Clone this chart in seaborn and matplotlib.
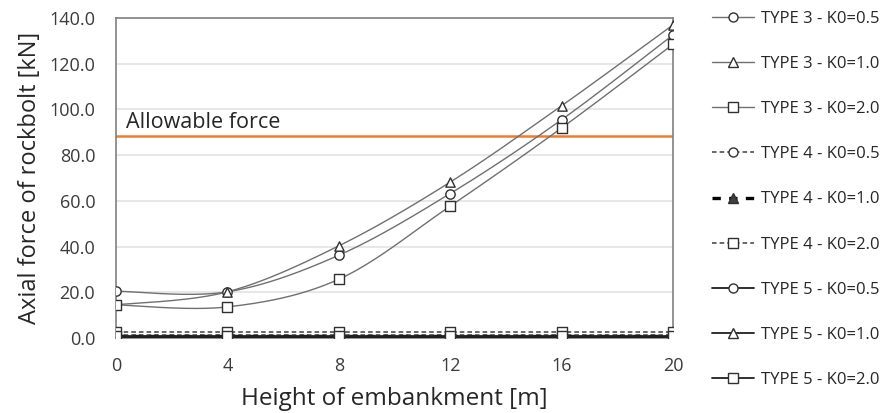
import numpy as np
import pandas as pd
import matplotlib
matplotlib.use("Agg")
import matplotlib.pyplot as plt
from matplotlib.lines import Line2D
import seaborn as sns

# Embankment heights [m]
heights = [0, 4, 8, 12, 16, 20]

# Axial force of rockbolt [kN]
type3_k05 = [20.5, 20.2, 36.2, 63.2, 95.5, 132.6]
type3_k10 = [14.5, 20.2, 40.3, 68.2, 101.6, 137.0]
type3_k20 = [14.5, 13.6, 25.7, 57.7, 91.9, 128.5]
type4_k05 = [1.4, 1.4, 1.4, 1.4, 1.4, 1.4]
type4_k10 = [1.0, 1.0, 1.0, 1.0, 1.0, 1.0]
type4_k20 = [2.8, 2.8, 2.8, 2.8, 2.8, 2.8]
type5_k05 = [0.5, 0.5, 0.5, 0.5, 0.5, 0.5]
type5_k10 = [0.3, 0.3, 0.3, 0.3, 0.3, 0.3]
type5_k20 = [0.7, 0.7, 0.7, 0.7, 0.7, 0.7]

allowable_force = 88.5

series_names = [
    "TYPE 3 - K0=0.5", "TYPE 3 - K0=1.0", "TYPE 3 - K0=2.0",
    "TYPE 4 - K0=0.5", "TYPE 4 - K0=1.0", "TYPE 4 - K0=2.0",
    "TYPE 5 - K0=0.5", "TYPE 5 - K0=1.0", "TYPE 5 - K0=2.0",
]
series_values = [
    type3_k05, type3_k10, type3_k20,
    type4_k05, type4_k10, type4_k20,
    type5_k05, type5_k10, type5_k20,
]

# line style, line colour, line width, marker, marker face
styles = {
    "TYPE 3 - K0=0.5": ("-", "#707070", 1.0, "o", "white"),
    "TYPE 3 - K0=1.0": ("-", "#707070", 1.0, "^", "white"),
    "TYPE 3 - K0=2.0": ("-", "#707070", 1.0, "s", "white"),
    "TYPE 4 - K0=0.5": ((0, (3, 2)), "#404040", 1.1, "o", "white"),
    "TYPE 4 - K0=1.0": ((0, (2.5, 2.5)), "#000000", 2.4, "^", "#404040"),
    "TYPE 4 - K0=2.0": ((0, (3, 2)), "#404040", 1.1, "s", "white"),
    "TYPE 5 - K0=0.5": ("-", "#202020", 1.3, "o", "white"),
    "TYPE 5 - K0=1.0": ("-", "#202020", 1.3, "^", "white"),
    "TYPE 5 - K0=2.0": ("-", "#202020", 1.3, "s", "white"),
}


def smooth_curve(xs, ys, n=40):
    """Cubic Bezier smoothing through every point (spreadsheet-style)."""
    xs = np.asarray(xs, float)
    ys = np.asarray(ys, float)
    px = np.concatenate([[xs[0]], xs, [xs[-1]]])
    py = np.concatenate([[ys[0]], ys, [ys[-1]]])
    out_x, out_y = [], []
    t = np.linspace(0, 1, n)
    for i in range(1, len(px) - 2):
        p0 = np.array([px[i], py[i]])
        p3 = np.array([px[i + 1], py[i + 1]])
        c1 = p0 + (np.array([px[i + 1], py[i + 1]]) - np.array([px[i - 1], py[i - 1]])) / 6
        c2 = p3 - (np.array([px[i + 2], py[i + 2]]) - np.array([px[i], py[i]])) / 6
        b = ((1 - t) ** 3)[:, None] * p0 + (3 * (1 - t) ** 2 * t)[:, None] * c1 \
            + (3 * (1 - t) * t ** 2)[:, None] * c2 + (t ** 3)[:, None] * p3
        out_x.extend(b[:, 0])
        out_y.extend(b[:, 1])
    return np.array(out_x), np.array(out_y)


sns.set_theme(style="white")
plt.rcParams["font.family"] = ["Open Sans", "DejaVu Sans"]

fig = plt.figure(figsize=(8.86, 4.13), dpi=100)
ax = fig.add_axes([0.1309, 0.1816, 0.6287, 0.7748])

# Near-zero series first, the rising TYPE 3 curves last
draw_order = list(range(3, 9)) + [0, 1, 2]
for idx in draw_order:
    name = series_names[idx]
    vals = series_values[idx]
    ls, col, lw, mk, face = styles[name]
    sx, sy = smooth_curve(heights, vals)
    sns.lineplot(x=sx, y=sy, ax=ax, color=col, linewidth=lw, linestyle=ls,
                 sort=False, estimator=None, legend=False, zorder=3)
    sns.scatterplot(x=heights, y=vals, ax=ax, marker=mk, s=45,
                    facecolor=face, edgecolor="#303030", linewidth=1.0,
                    legend=False, zorder=4)

# Allowable force
ax.axhline(allowable_force, color="#ED7D31", linewidth=1.8, zorder=2)
ax.text(0.35, allowable_force + 1.2, "Allowable force", fontsize=15.5,
        color="#262626", ha="left", va="bottom")

ax.set_xlim(0, 20)
ax.set_ylim(0, 140)
ax.set_xticks(heights)
ax.set_xticklabels([str(h) for h in heights])
yticks = np.arange(0, 141, 20)
ax.set_yticks(yticks)
ax.set_yticklabels([f"{v:.1f}" for v in yticks])
ax.tick_params(axis="both", length=0, labelsize=13, labelcolor="#3b3b3b")
ax.tick_params(axis="y", pad=15)
ax.tick_params(axis="x", pad=14)
ax.yaxis.grid(True, color="#e3e3e3", linewidth=1.2, zorder=0)
ax.set_axisbelow(True)
for sp in ax.spines.values():
    sp.set_color("#808080")
    sp.set_linewidth(1.2)

ax.set_xlabel("Height of embankment [m]", fontsize=17.5, color="#262626", labelpad=8)
ax.set_ylabel("Axial force of rockbolt [kN]", fontsize=17, color="#262626", labelpad=5)

handles = []
for name in series_names:
    ls, col, lw, mk, face = styles[name]
    handles.append(Line2D([0], [0], color=col, linestyle=ls, linewidth=lw,
                          marker=mk, markersize=6.5, markerfacecolor=face,
                          markeredgecolor="#303030", markeredgewidth=1.0))
leg = fig.legend(handles, series_names, loc="upper left",
                 bbox_to_anchor=(0.796, 0.99), frameon=False,
                 fontsize=12, labelspacing=1.75, handlelength=2.5,
                 handletextpad=0.45, borderaxespad=0)
for t in leg.get_texts():
    t.set_color("#262626")

fig.savefig("out.png", dpi=100)
